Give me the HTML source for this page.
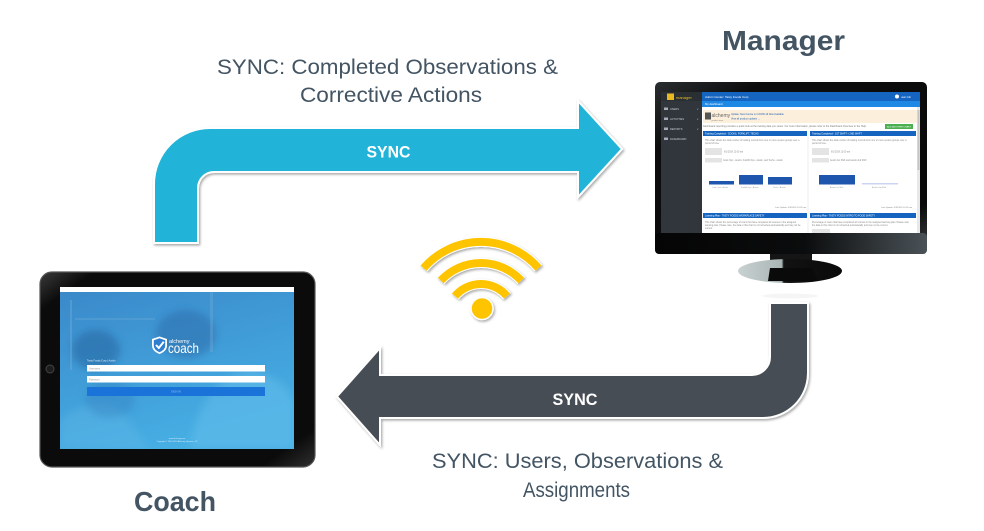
<!DOCTYPE html>
<html><head><meta charset="utf-8"><style>
html,body{margin:0;padding:0;background:#fff;}
svg{display:block;}
text{font-family:"Liberation Sans",sans-serif;}
</style></head><body>
<svg width="984" height="531" viewBox="0 0 984 531" xmlns="http://www.w3.org/2000/svg">
<defs>
<filter id="sh" x="-10%" y="-10%" width="130%" height="130%"><feDropShadow dx="1.2" dy="1.5" stdDeviation="1.3" flood-color="#000" flood-opacity="0.35"/></filter>
<filter id="bl" x="-20%" y="-20%" width="140%" height="140%"><feGaussianBlur stdDeviation="4"/></filter>
<clipPath id="tclip"><rect x="60" y="292" width="234" height="157"/></clipPath>
<linearGradient id="chin" x1="0" y1="0" x2="1" y2="0"><stop offset="0" stop-color="#050505"/><stop offset="0.55" stop-color="#0b0c0d"/><stop offset="1" stop-color="#4a5257"/></linearGradient>
<linearGradient id="bez" x1="0" y1="0" x2="1" y2="1"><stop offset="0" stop-color="#2a2d30"/><stop offset="0.2" stop-color="#0c0c0c"/><stop offset="0.85" stop-color="#0a0a0a"/><stop offset="1" stop-color="#3b4045"/></linearGradient>
<linearGradient id="base" x1="0" y1="0" x2="1" y2="0"><stop offset="0" stop-color="#c9d1d1"/><stop offset="0.42" stop-color="#aab5b5"/><stop offset="0.44" stop-color="#121212"/><stop offset="1" stop-color="#0a0a0a"/></linearGradient>
<linearGradient id="tab" x1="0" y1="0" x2="1" y2="1"><stop offset="0" stop-color="#3a3a3a"/><stop offset="0.1" stop-color="#0b0b0b"/><stop offset="0.9" stop-color="#0b0b0b"/><stop offset="1" stop-color="#2f2f2f"/></linearGradient>
<linearGradient id="tscr" x1="0" y1="0" x2="0.4" y2="1"><stop offset="0" stop-color="#3a88c9"/><stop offset="1" stop-color="#46aee3"/></linearGradient>
</defs>

<!-- Titles -->
<text x="387.5" y="74" font-size="21.5" fill="#435463" text-anchor="middle" textLength="341" lengthAdjust="spacingAndGlyphs">SYNC: Completed Observations &amp;</text>
<text x="391" y="102" font-size="21.5" fill="#435463" text-anchor="middle" textLength="182" lengthAdjust="spacingAndGlyphs">Corrective Actions</text>
<text x="783.5" y="50" font-size="28" font-weight="bold" fill="#435463" text-anchor="middle" textLength="123" lengthAdjust="spacingAndGlyphs">Manager</text>
<text x="577.5" y="468" font-size="21" fill="#435463" text-anchor="middle" textLength="291" lengthAdjust="spacingAndGlyphs">SYNC: Users, Observations &amp;</text>
<text x="576.5" y="497" font-size="21" fill="#435463" text-anchor="middle" textLength="107" lengthAdjust="spacingAndGlyphs">Assignments</text>
<text x="175" y="511" font-size="28" font-weight="bold" fill="#435463" text-anchor="middle" textLength="82" lengthAdjust="spacingAndGlyphs">Coach</text>

<!-- Top arrow -->
<path d="M154,243 L154,184 A56,56 0 0 1 210,128 L578,128 L578,101 L622,149 L578,197 L578,172 L214,172 A16,16 0 0 0 198,188 L198,243 Z" fill="#24b4d8" stroke="#fff" stroke-width="2" filter="url(#sh)"/>
<text x="388.5" y="157.5" font-size="17" font-weight="bold" fill="#fff" text-anchor="middle" textLength="44" lengthAdjust="spacingAndGlyphs">SYNC</text>

<!-- Bottom arrow -->
<path d="M770,303 L808,303 L808,373 A45,45 0 0 1 763,418 L380,418 L380,445 L337,396.5 L380,348 L380,375 L752,375 A18,18 0 0 0 770,357 Z" fill="#474e55" stroke="#fff" stroke-width="2" filter="url(#sh)"/>
<text x="575" y="405" font-size="17" font-weight="bold" fill="#fff" text-anchor="middle" textLength="45" lengthAdjust="spacingAndGlyphs">SYNC</text>

<!-- WiFi -->
<g filter="url(#sh)" fill="none">
<g stroke="#fff" stroke-width="10">
<path d="M423.6,268.1 A76,76 0 0 1 538.4,268.1"/>
<path d="M440.8,280.5 A55,55 0 0 1 521.2,280.5"/>
<path d="M455,296.1 A34,34 0 0 1 507,296.1"/>
</g>
<g stroke="#ffc400" stroke-width="8">
<path d="M423.6,268.1 A76,76 0 0 1 538.4,268.1"/>
<path d="M440.8,280.5 A55,55 0 0 1 521.2,280.5"/>
<path d="M455,296.1 A34,34 0 0 1 507,296.1"/>
</g>
<circle cx="482" cy="308.5" r="11" fill="#ffc400" stroke="#fff" stroke-width="1.5"/>
</g>

<!-- Monitor -->
<ellipse cx="790" cy="296" rx="28" ry="2.5" fill="#000" opacity="0.04"/>
<rect x="770" y="250" width="42" height="20" fill="#151515"/>
<ellipse cx="790" cy="271" rx="52" ry="12" fill="url(#base)"/>
<path d="M770,268 L812,268 L818,281 L768,281 Z" fill="#0a0a0a"/>
<rect x="655" y="82" width="272" height="172" rx="5" fill="url(#bez)"/>
<rect x="655" y="233" width="272" height="21" rx="4" fill="url(#chin)"/>
<rect x="661" y="92" width="259" height="141" fill="#fff"/>
<!-- sidebar -->
<rect x="661" y="92" width="41" height="141" fill="#30363b"/>
<rect x="661" y="92" width="41" height="9" fill="#2a2f33"/>
<rect x="667" y="93.5" width="7" height="6.5" fill="#e8b820"/>
<text x="676" y="99" font-size="4" fill="#e8b820">manager</text>
<g font-size="2.6" fill="#c9cdd0">
<rect x="664" y="107.5" width="4" height="2.5" fill="#aab"/><text x="670" y="110">USERS</text><text x="697" y="110">v</text>
<rect x="664" y="117.5" width="4" height="2.5" fill="#aab"/><text x="670" y="120">ACTIVITIES</text><text x="697" y="120">v</text>
<rect x="664" y="127.5" width="4" height="2.5" fill="#aab"/><text x="670" y="130">REPORTS</text><text x="697" y="130">v</text>
<rect x="664" y="137.5" width="4" height="2.5" fill="#aab"/><text x="670" y="140">DASHBOARD</text>
</g>
<!-- header -->
<rect x="702" y="92" width="218" height="9" fill="#1565c0"/>
<text x="705" y="98" font-size="3" fill="#fff">Admin Center: Tasty Foods Corp</text>
<circle cx="897" cy="96.5" r="2" fill="#fff"/>
<text x="901" y="98" font-size="2.6" fill="#fff">user info</text>
<rect x="702" y="101" width="218" height="6" fill="#1e88e5"/>
<text x="705" y="105.2" font-size="2.8" fill="#fff">My dashboard</text>
<!-- notice -->
<rect x="703" y="110" width="214" height="13" fill="#fcefdc"/>
<rect x="705" y="112.5" width="6" height="7" fill="#555"/>
<text x="711.5" y="117" font-size="5" fill="#666">alchemy</text>
<text x="711.5" y="121" font-size="2" fill="#888">product team</text>
<text x="731" y="115" font-size="2.4" fill="#1a5fb4">Update: New Course on COVID-19 Now Available</text>
<text x="731" y="119.5" font-size="2.4" fill="#1a5fb4">View all product updates →</text>
<text x="703" y="127" font-size="2.5" fill="#777">Dashboard reporting provides a quick look at the training data you select. For more information, please refer to the Dashboard Overview in the Help.</text>
<rect x="885" y="124" width="28" height="5" fill="#4caf50"/>
<text x="887" y="127.6" font-size="2.2" fill="#fff">ADD ANOTHER CHART</text>
<!-- left column -->
<rect x="703" y="131" width="104" height="5" fill="#1565c0"/>
<text x="705" y="134.6" font-size="2.4" fill="#fff">Training Completed - COOKS, FORKLIFT, TECHS</text>
<text x="705" y="141" font-size="2.3" fill="#888">This chart shows the total number of training records from one or more system groups over a</text>
<text x="705" y="144" font-size="2.3" fill="#888">period of time.</text>
<rect x="705" y="148" width="17" height="7" fill="#e4e4e4"/>
<text x="724" y="152.5" font-size="2.3" fill="#888">6/1/2019 12:00 am</text>
<rect x="705" y="158" width="17" height="4.5" fill="#e4e4e4"/>
<text x="723" y="161" font-size="2.3" fill="#888">Cook Ops - Austin, Forklift Ops - Austin, and Techs - Austin</text>
<rect x="709" y="181" width="25" height="3.5" fill="#1f56ad"/>
<rect x="739" y="175" width="24" height="9.5" fill="#1f56ad"/>
<rect x="768" y="177" width="24" height="7.5" fill="#1f56ad"/>
<text x="712" y="188" font-size="2" fill="#999">Cook Ops - Austin</text>
<text x="741" y="188" font-size="2" fill="#999">Forklift Ops - Austin</text>
<text x="773" y="188" font-size="2" fill="#999">Techs - Austin</text>
<text x="775" y="208" font-size="2.2" fill="#888">Last Update: 6/9/2020 10:26 am</text>
<rect x="703" y="213" width="104" height="5" fill="#1565c0"/>
<text x="705" y="216.6" font-size="2.4" fill="#fff">Learning Plan - TASTY FOODS WORKPLACE SAFETY</text>
<text x="705" y="223" font-size="2.3" fill="#888">This chart shows the percentage of users that have completed all courses in the assigned</text>
<text x="705" y="226" font-size="2.3" fill="#888">learning plan. Please note, the data in this chart is not refreshed automatically and may not be</text>
<text x="705" y="229" font-size="2.3" fill="#888">current.</text>
<!-- right column -->
<rect x="810" y="131" width="106" height="5" fill="#1565c0"/>
<text x="812" y="134.6" font-size="2.4" fill="#fff">Training Completed - 1ST SHIFT + 2ND SHIFT</text>
<text x="812" y="141" font-size="2.3" fill="#888">This chart shows the total number of training records from one or more system groups over a</text>
<text x="812" y="144" font-size="2.3" fill="#888">period of time.</text>
<rect x="812" y="148" width="17" height="7" fill="#e4e4e4"/>
<text x="831" y="152.5" font-size="2.3" fill="#888">6/1/2019 12:00 am</text>
<rect x="812" y="158" width="17" height="4.5" fill="#e4e4e4"/>
<text x="830" y="161" font-size="2.3" fill="#888">Austin 1st Shift and Austin 2nd Shift</text>
<rect x="819" y="175" width="36" height="9.5" fill="#1f56ad"/>
<rect x="862" y="183" width="36" height="1.5" fill="#c8d6ef"/>
<text x="830" y="188" font-size="2" fill="#999">Austin 1st Shift</text>
<text x="872" y="188" font-size="2" fill="#999">Austin 2nd Shift</text>
<text x="881" y="208" font-size="2.2" fill="#888">Last Update: 6/9/2020 10:26 am</text>
<rect x="810" y="213" width="106" height="5" fill="#1565c0"/>
<text x="812" y="216.6" font-size="2.4" fill="#fff">Learning Plan - TASTY FOODS INTRO TO FOOD SAFETY</text>
<text x="812" y="223" font-size="2.3" fill="#888">Percentage of users that have completed all courses in the assigned learning plan. Please note</text>
<text x="812" y="226" font-size="2.3" fill="#888">the data in this chart is not refreshed automatically and may not be current.</text>
<rect x="812" y="229" width="18" height="4" fill="#e4e4e4"/>
<rect x="807.5" y="131" width="1" height="102" fill="#eee"/>
<rect x="917" y="107" width="3" height="126" fill="#e8e8e8"/>
<rect x="917.5" y="110" width="2" height="60" fill="#c4c4c4"/>

<!-- Tablet -->
<rect x="40" y="272" width="275" height="195" rx="12" fill="url(#tab)" stroke="#555" stroke-width="1.2"/>
<circle cx="50" cy="369" r="4" fill="#1c1c1c" stroke="#444" stroke-width="1"/>
<rect x="60" y="287" width="234" height="162" fill="url(#tscr)"/>
<rect x="60" y="287" width="234" height="5" fill="#fff"/>
<g clip-path="url(#tclip)">
<g filter="url(#bl)">
<ellipse cx="186" cy="334" rx="30" ry="24" fill="#2c6aa8" opacity="0.5"/>
<ellipse cx="96" cy="350" rx="24" ry="20" fill="#255f9c" opacity="0.5"/>
<path d="M60,449 L60,420 Q90,395 120,410 L150,449 Z" fill="#5fb8e8" opacity="0.4"/>
<path d="M190,449 Q200,380 250,370 Q294,380 294,410 L294,449 Z" fill="#6ec3ee" opacity="0.4"/>
<ellipse cx="110" cy="400" rx="25" ry="18" fill="#2f74b5" opacity="0.3"/>
</g>
<rect x="70" y="300" width="2" height="70" fill="#7fb4dd" opacity="0.35"/>
<rect x="210" y="292" width="3" height="60" fill="#7fb4dd" opacity="0.3"/>
<rect x="75" y="318" width="80" height="2" fill="#7fb4dd" opacity="0.25"/>
</g>
<path d="M152,339 L159.5,336.5 L167,339 L167,345.5 Q167,351 159.5,354 Q152,351 152,345.5 Z" fill="#fff"/>
<path d="M153.8,340.2 L159.5,338.3 L165.2,340.2 L165.2,345.5 Q165.2,349.8 159.5,352.2 Q153.8,349.8 153.8,345.5 Z" fill="#2f7fd0"/>
<path d="M156,345 L158.8,348 L163.8,341.8" stroke="#fff" stroke-width="2" fill="none"/>
<text x="169" y="343" font-size="5.5" fill="#fff">alchemy</text>
<text x="168" y="353" font-size="14" fill="#fff" textLength="31" lengthAdjust="spacingAndGlyphs">coach</text>
<text x="87" y="361.5" font-size="2.5" fill="#e8f2fb">Tasty Foods Corp | Austin</text>
<rect x="87" y="365" width="178" height="6.5" fill="#fff"/>
<text x="89" y="369.5" font-size="2.4" fill="#999">Username</text>
<rect x="87" y="376" width="178" height="6.5" fill="#fff"/>
<text x="89" y="380.5" font-size="2.4" fill="#999">Password</text>
<rect x="87" y="387" width="178" height="9" fill="#1a73d9"/>
<text x="176" y="392.5" font-size="2.6" fill="#9cc6f0" text-anchor="middle">SIGN IN</text>
<text x="177" y="439" font-size="2" fill="#dbeaf7" text-anchor="middle">www.alchemy.com</text>
<text x="177" y="442" font-size="2" fill="#dbeaf7" text-anchor="middle">Copyright © 2010-2020 Alchemy Systems, LP</text>
</svg>
</body></html>
